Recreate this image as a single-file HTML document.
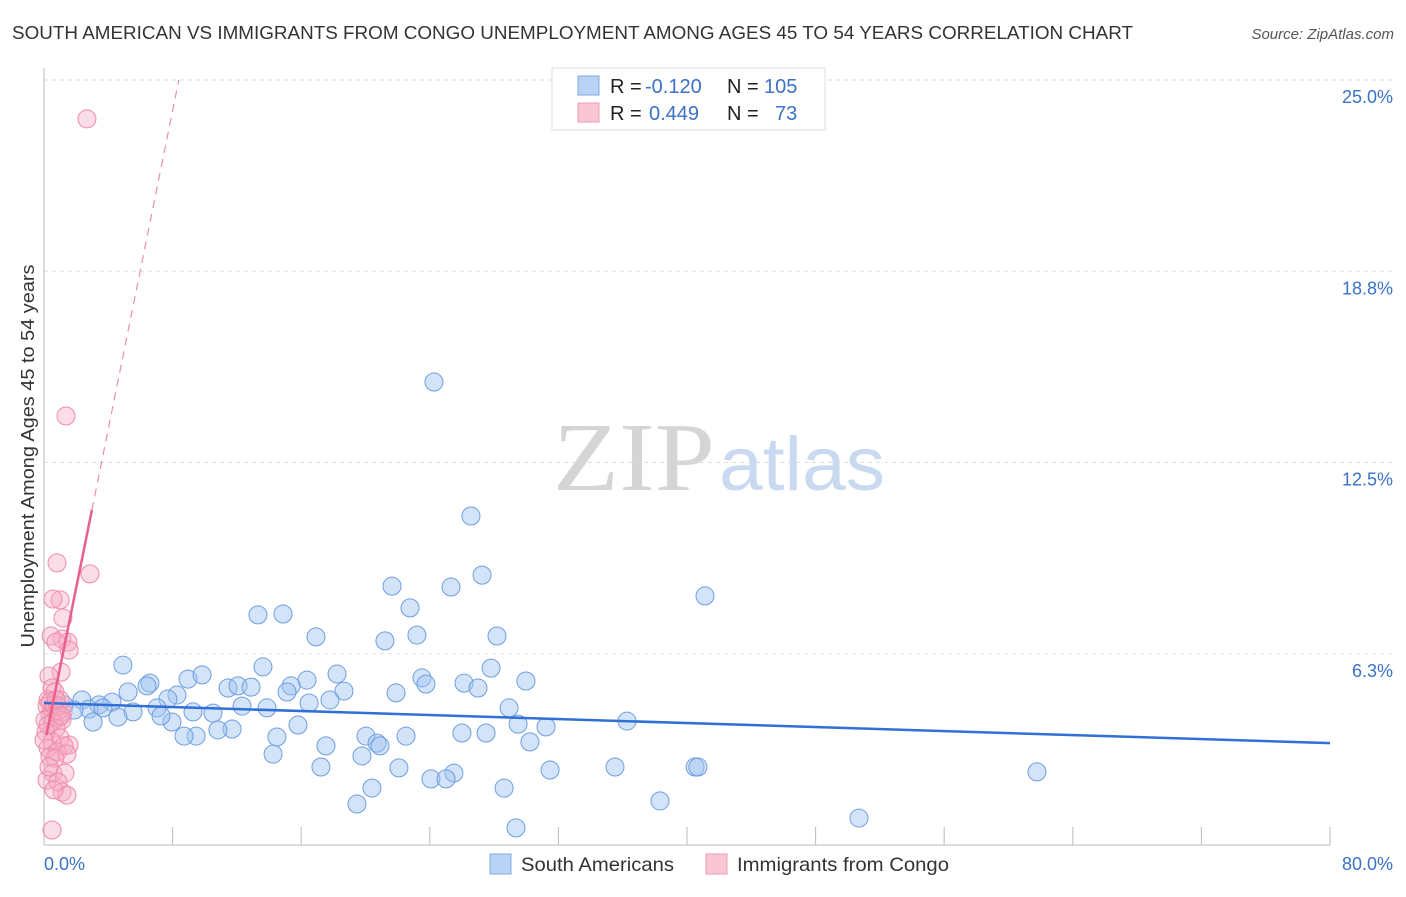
<!DOCTYPE html>
<html><head><meta charset="utf-8"><style>
body{margin:0;background:#fff;font-family:"Liberation Sans",sans-serif;}
svg text{font-family:"Liberation Sans",sans-serif;}
</style></head><body>
<svg id="chart" width="1406" height="892" xmlns="http://www.w3.org/2000/svg">
<text x="12" y="39" font-size="18" fill="#333" textLength="1121" lengthAdjust="spacingAndGlyphs">SOUTH AMERICAN VS IMMIGRANTS FROM CONGO UNEMPLOYMENT AMONG AGES 45 TO 54 YEARS CORRELATION CHART</text>
<text x="1394" y="39" font-size="15" fill="#555" font-style="italic" text-anchor="end">Source: ZipAtlas.com</text>
<g>
<text x="553" y="490" font-size="98" fill="#d5d5d5" textLength="162" lengthAdjust="spacingAndGlyphs" style="font-family:'Liberation Serif',serif">ZIP</text>
<text x="719" y="490" font-size="76" fill="#c9daf0" textLength="166" lengthAdjust="spacingAndGlyphs">atlas</text>
</g>
<g id="grid"></g>
<g id="axes"></g>
<g id="pts"></g>
<g id="trend"></g>
<text transform="translate(34,456) rotate(-90)" font-size="18" fill="#333" text-anchor="middle" textLength="383" lengthAdjust="spacingAndGlyphs">Unemployment Among Ages 45 to 54 years</text>
<text x="44" y="870" font-size="18" fill="#3a72c8">0.0%</text>
<text x="1393" y="870" font-size="18" fill="#3a72c8" text-anchor="end">80.0%</text>
<g>
<rect x="552" y="68" width="273" height="62" fill="#fff" stroke="#ddd"/>
<rect x="578" y="76" width="21" height="19" fill="#b9d3f5" stroke="#7ea8e0"/>
<rect x="578" y="103" width="21" height="19" fill="#f9c6d4" stroke="#ee9ab4"/>
<text x="610" y="93" font-size="20" fill="#222">R = <tspan fill="#3a72c8" x="645">-0.120</tspan><tspan x="727">N = </tspan><tspan fill="#3a72c8" x="764">105</tspan></text>
<text x="610" y="120" font-size="20" fill="#222">R = <tspan fill="#3a72c8" x="649">0.449</tspan><tspan x="727">N = </tspan><tspan fill="#3a72c8" x="775">73</tspan></text>
</g>
<g>
<rect x="490" y="854" width="21" height="20" fill="#b9d3f5" stroke="#7ea8e0"/>
<text x="521" y="871" font-size="19.5" fill="#333" textLength="153" lengthAdjust="spacingAndGlyphs">South Americans</text>
<rect x="706" y="854" width="21" height="20" fill="#f9c6d4" stroke="#ee9ab4"/>
<text x="737" y="871" font-size="19.5" fill="#333" textLength="212" lengthAdjust="spacingAndGlyphs">Immigrants from Congo</text>
</g>
</svg>
<script>
const yTicks=[6.25,12.5,18.75,25];
const yTickLabels=["6.3%","12.5%","18.8%","25.0%"];
const blueX=[24.26,26.56,21.65,25.32,27.25,41.12,22.77,13.31,14.87,23.2,21.21,28.18,16.92,4.91,13.62,27.81,18.23,23.51,6.59,8.96,9.83,11.45,26.13,29.98,16.36,12.07,12.88,6.41,15.37,18.66,23.76,27.0,21.9,15.12,8.27,5.23,7.71,2.36,4.23,17.79,16.49,12.32,13.87,28.93,3.42,2.8,1.87,3.67,1.24,7.03,9.27,10.51,5.54,4.6,3.05,15.8,7.96,7.28,11.7,10.82,9.46,8.71,36.27,29.49,31.23,20.03,14.49,26.0,27.5,22.52,20.72,30.23,17.54,20.9,14.25,19.78,17.23,22.08,31.48,35.52,40.5,40.68,61.77,25.5,24.07,25.01,20.4,28.62,38.32,19.47,50.7,29.36];
const blueY=[15.13,10.75,8.46,8.43,8.82,8.14,7.75,7.52,7.55,6.86,6.67,6.83,6.8,5.88,5.82,5.78,5.59,5.46,5.29,5.42,5.56,5.13,5.29,5.36,5.39,5.2,5.16,5.2,5.2,5.03,5.26,5.13,4.97,5.0,4.9,5.0,4.77,4.74,4.67,4.74,4.64,4.54,4.48,4.48,4.58,4.44,4.41,4.48,4.58,4.48,4.35,4.31,4.35,4.18,4.02,3.92,4.02,4.22,3.79,3.76,3.56,3.56,4.05,3.95,3.86,3.56,3.53,3.66,3.66,3.56,3.33,3.37,3.24,3.24,2.97,2.91,2.55,2.52,2.45,2.55,2.55,2.55,2.39,2.35,2.16,2.16,1.86,1.86,1.44,1.34,0.88,0.56];
const pinkX=[2.67,1.37,2.86,0.81,1.0,0.56,1.18,1.12,0.44,1.49,0.75,1.56,1.06,0.31,0.5,0.68,0.25,1.0,0.19,0.5,0.81,1.18,0.37,0.87,0.06,1.12,0.56,0.25,0.75,0.12,1.0,1.56,0.5,1.24,0.25,0.81,1.43,0.37,0.68,0.56,1.31,0.19,0.87,1.12,1.43,0.62,0.5,0.37,0.62,0.87,1.06,0.75,0.0,0.31];
const pinkY=[23.73,14.02,8.86,9.22,8.01,8.04,7.42,6.73,6.83,6.63,6.63,6.37,5.65,5.52,5.13,5.0,4.74,4.74,4.54,4.44,4.35,4.35,4.25,4.15,4.08,4.08,4.02,3.92,3.82,3.69,3.5,3.27,3.37,3.24,3.17,3.04,2.97,2.88,2.84,2.35,2.35,2.12,2.06,1.73,1.63,1.8,0.49,4.67,4.58,4.54,4.22,4.74,3.43,2.55];
const blueTrend=[4.64,3.33];
const pinkTrend=[3.2,2.6];
const NS="http://www.w3.org/2000/svg";
const X0=44,X1=1330,Y0=845;
const sx=v=>X0+(X1-X0)*v/80;
const sy=v=>Y0-v*30.6;
function mk(tag,attrs,parent){const e=document.createElementNS(NS,tag);for(const k in attrs)e.setAttribute(k,attrs[k]);document.getElementById(parent).appendChild(e);return e;}
yTicks.forEach((t,i)=>{
 const g=mk('line',{x1:X0,x2:1395,y1:sy(t),y2:sy(t),stroke:'#ddd','stroke-dasharray':'4,4'},'grid');
 
 
 const l=mk('text',{x:1393,y:sy(t)+23,'font-size':18,fill:'#3a72c8','text-anchor':'end'},'grid');
 l.textContent=yTickLabels[i];
 
 
});
const ya=mk('line',{x1:X0,x2:X0,y1:68,y2:Y0,stroke:'#bbb'},'axes');


const xa=mk('line',{x1:X0,x2:X1,y1:Y0,y2:Y0,stroke:'#bbb'},'axes');


for(let v=8;v<=80;v+=8){const t=mk('line',{x1:sx(v),x2:sx(v),y1:Y0-18,y2:Y0,stroke:'#bbb'},'axes');
 
 }
blueX.forEach((x,i)=>{const c=mk('circle',{cx:sx(x),cy:sy(blueY[i]),r:9,fill:'rgba(160,196,240,0.45)',stroke:'#6d9ee0','stroke-width':1},'pts');
 
 });
pinkX.forEach((x,i)=>{const c=mk('circle',{cx:sx(x),cy:sy(pinkY[i]),r:9,fill:'rgba(245,170,195,0.4)',stroke:'#ef8aaa','stroke-width':1},'pts');
 
 });
const bl=mk('line',{x1:sx(0),y1:sy(blueTrend[0]),x2:sx(80),y2:sy(blueTrend[1]),stroke:'#2f6fd6','stroke-width':2.5},'trend');


const pe=2.98,pd=(25-pinkTrend[0])/pinkTrend[1];
const pl=mk('line',{x1:sx(0.15),y1:sy(pinkTrend[0]+pinkTrend[1]*0.15),x2:sx(pe),y2:sy(pinkTrend[0]+pinkTrend[1]*pe),stroke:'#e8608a','stroke-width':2.5},'trend');


const pdl=mk('line',{x1:sx(pe),y1:sy(pinkTrend[0]+pinkTrend[1]*pe),x2:sx(pd),y2:sy(25),stroke:'#eb8fab','stroke-width':1.2,'stroke-dasharray':'8,6'},'trend');


</script>
</body></html>
